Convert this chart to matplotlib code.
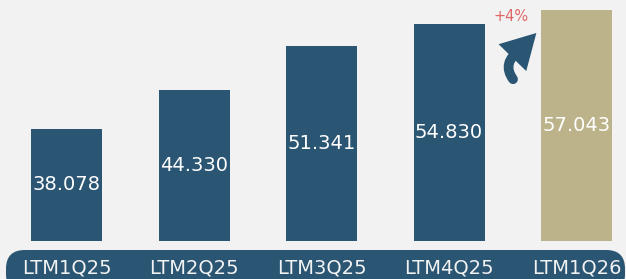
import matplotlib.pyplot as plt
from matplotlib.patches import FancyBboxPatch, FancyArrowPatch, PathPatch
from matplotlib.path import Path

periods = ["LTM1Q25", "LTM2Q25", "LTM3Q25", "LTM4Q25", "LTM1Q26"]
values = [38.078, 44.330, 51.341, 54.830, 57.043]
bar_colors = ["#2a5573", "#2a5573", "#2a5573", "#2a5573", "#bdb38a"]

bg = "#f2f2f2"
navy = "#2a5573"

fig = plt.figure(figsize=(6.26, 2.79), dpi=100, facecolor=bg)
ax = fig.add_axes([0, 38 / 279, 1, 241 / 279])
ax.set_facecolor(bg)

x = range(len(values))
ax.bar(x, values, width=0.557, color=bar_colors, bottom=0)
ax.set_xlim(-0.522, 4.388)
ax.set_ylim(20, 58.73)
ax.axis("off")

# value labels in the middle of each visible bar
for i, v in enumerate(values):
    ax.text(i, (20 + v) / 2, f"{v:.3f}", ha="center", va="center",
            color="white", fontsize=14)

# growth arrow + label
growth = values[-1] / values[-2] - 1
ax.text(3.485, 56.0, f"+{growth * 100:.0f}%", ha="center", va="center",
        color="#e06666", fontsize=10.5)
# curled shaft
shaft = Path([(3.502, 46.0), (3.41, 48.6), (3.557, 50.70)],
             [Path.MOVETO, Path.CURVE3, Path.CURVE3])
ax.add_patch(PathPatch(shaft, fill=False, edgecolor=navy, lw=7,
                       capstyle="round"))
# head
ax.add_patch(FancyArrowPatch((3.502, 49.57), (3.685, 53.43),
                             arrowstyle="simple,head_length=1.65,head_width=1.85,tail_width=0.5",
                             mutation_scale=15, color=navy, lw=0,
                             shrinkA=0, shrinkB=0))

# rounded band behind category labels
band = FancyBboxPatch((6 / 626, -0.05), 619 / 626, 0.05 + 29 / 279,
                      boxstyle="round,pad=0,rounding_size=0.03",
                      transform=fig.transFigure, facecolor=navy,
                      edgecolor="none", mutation_aspect=2.24)
fig.patches.append(band)
for i, p in enumerate(periods):
    xf = (66.5 + 127.5 * i) / 626
    fig.text(xf, 11.5 / 279, p, ha="center", va="center", color="#f2f2f2",
             fontsize=14)

fig.savefig("out.png", dpi=100, facecolor=bg)
